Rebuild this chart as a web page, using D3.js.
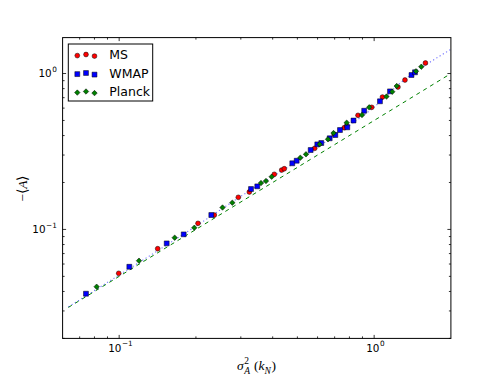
<!DOCTYPE html>
<html><head><meta charset="utf-8">
<script src="https://cdn.jsdelivr.net/npm/d3@7"></script>
<style>body{margin:0;background:#fff;}svg{display:block;}</style>
</head><body>
<svg id="chart" width="501" height="376"></svg>
<script>
// ---- data ----
const msX   = [0.0996,0.1416,0.2038,0.2361,0.2933,0.3239,0.4059,0.4339,0.4442,0.5845,0.6979,0.7636,0.7803,0.8643,0.9781,1.078,1.240,1.321,1.589];
const msY   = [0.0523,0.0752,0.1094,0.1237,0.1607,0.1738,0.2257,0.2404,0.2451,0.3313,0.4074,0.4491,0.4605,0.5394,0.6068,0.7067,0.819,0.9085,1.168];
const wmapX = [0.0741,0.1096,0.1536,0.1791,0.2298,0.3289,0.3481,0.4775,0.4969,0.5637,0.5984,0.6205,0.6693,0.7042,0.7345,0.7847,0.8299,0.9140,1.054,1.154,1.401,1.446];
const wmapY = [0.0387,0.0576,0.0814,0.0930,0.1237,0.1816,0.1890,0.2655,0.2759,0.3231,0.3514,0.3582,0.3841,0.4032,0.4341,0.4518,0.4995,0.5772,0.6634,0.7687,0.978,1.018];
const plX   = [0.0816,0.1196,0.1651,0.1971,0.2543,0.2778,0.3599,0.3765,0.3964,0.5134,0.5404,0.6115,0.6592,0.6929,0.7803,0.8961,0.9563,1.118,1.178,1.226,1.459,1.531];
const plY   = [0.0429,0.0630,0.0885,0.1025,0.1382,0.1484,0.1984,0.2044,0.2178,0.2884,0.3032,0.3514,0.3785,0.4152,0.4836,0.5418,0.6068,0.7119,0.7643,0.8313,1.033,1.106];
// dotted blue fit curve and dashed green curve
const fitX  = [0.0632,0.1,0.2,0.3,0.5,0.7,1.0,1.3,1.6,2.0];
const fitY  = [0.0319,0.051,0.105,0.163,0.275,0.40,0.61,0.90,1.14,1.43];
const halfX = [0.0632,0.2,0.6,1.0,2.0];
const halfY = [0.0316,0.1,0.3,0.5,1.0];
const seriesNames = ["MS","WMAP","Planck"];
const xMajor = [0.1,1];
const xMinor = [0.07,0.08,0.09,0.2,0.3,0.4,0.5,0.6,0.7,0.8,0.9];
const yMajor = [0.1,1];
const yMinor = [0.02,0.03,0.04,0.05,0.06,0.07,0.08,0.09,0.2,0.3,0.4,0.5,0.6,0.7,0.8,0.9];
const xTickExp = ["−1","0"];
const yTickExp = ["−1","0"];

// ---- layout ----
const L=62.6, R=450.9, T=37.6, B=338.4;
const svg=d3.select("#chart");
const x=d3.scaleLog().domain([0.06,2]).range([L,R]);
const y=d3.scaleLog().domain([0.02,1.7]).range([B,T]);

svg.append("defs").append("clipPath").attr("id","clip")
  .append("rect").attr("x",L).attr("y",T).attr("width",R-L).attr("height",B-T);
const plot=svg.append("g").attr("clip-path","url(#clip)");

const line=d3.line().x(d=>x(d[0])).y(d=>y(d[1])).curve(d3.curveMonotoneX);
plot.append("path").datum(halfX.map((v,i)=>[v,halfY[i]]))
  .attr("d",line).attr("fill","none").attr("stroke","#008000").attr("stroke-width",1)
  .attr("stroke-dasharray","4,4");
plot.append("path").datum(fitX.map((v,i)=>[v,fitY[i]]))
  .attr("d",line).attr("fill","none").attr("stroke","#0000ff").attr("stroke-opacity",0.55)
  .attr("stroke-width",1.1).attr("stroke-dasharray","1.2,2.6");

const sym = {
  MS: d3.symbol().type(d3.symbolCircle).size(Math.PI*2.4*2.4),
  WMAP: d3.symbol().type(d3.symbolSquare).size(24),
  Planck: d3.symbol().type(d3.symbolDiamond2).size(19)
};
const colors={MS:"#ff0000",WMAP:"#0000ff",Planck:"#008000"};
const sets=[["MS",msX,msY],["WMAP",wmapX,wmapY],["Planck",plX,plY]];
sets.forEach(([name,xs,ys])=>{
  plot.append("g").selectAll("path").data(xs.map((v,i)=>[v,ys[i]])).join("path")
    .attr("transform",d=>`translate(${x(d[0])},${y(d[1])})`)
    .attr("d",sym[name]()).attr("fill",colors[name])
    .attr("stroke","#000").attr("stroke-width",0.5);
});

// ---- axes: ticks inside, on all four sides ----
const ax=svg.append("g").attr("stroke","#000").attr("stroke-width",0.8);
function tick(x1,y1,x2,y2){ax.append("line").attr("x1",x1).attr("y1",y1).attr("x2",x2).attr("y2",y2);}
xMajor.forEach(v=>{const p=x(v);tick(p,B,p,B-3.5);tick(p,T,p,T+3.5);});
xMinor.forEach(v=>{const p=x(v);tick(p,B,p,B-2);tick(p,T,p,T+2);});
yMajor.forEach(v=>{const p=y(v);tick(L,p,L+3.5,p);tick(R,p,R-3.5,p);});
yMinor.forEach(v=>{const p=y(v);tick(L,p,L+2,p);tick(R,p,R-2,p);});
svg.append("rect").attr("x",L).attr("y",T).attr("width",R-L).attr("height",B-T)
  .attr("fill","none").attr("stroke","#000").attr("stroke-width",1);

// tick labels 10^n
const tf="DejaVu Sans";
xMajor.forEach((v,i)=>{
  const g=svg.append("g").attr("font-family",tf).attr("fill","#000");
  const t=g.append("text").attr("font-size",10.4).attr("y",351.5).text("10");
  const s=g.append("text").attr("font-size",7.3).attr("y",346).text(xTickExp[i]);
  const w1=t.node().getComputedTextLength(), w2=s.node().getComputedTextLength();
  const x0=x(v)-(w1+w2)/2+1;
  t.attr("x",x0); s.attr("x",x0+w1+0.5);
});
yMajor.forEach((v,i)=>{
  const g=svg.append("g").attr("font-family",tf).attr("fill","#000");
  const t=g.append("text").attr("font-size",10.4).attr("y",y(v)+3.8).text("10");
  const s=g.append("text").attr("font-size",7.3).attr("y",y(v)-1.8).text(yTickExp[i]);
  const w1=t.node().getComputedTextLength(), w2=s.node().getComputedTextLength();
  const xr=56.8;
  s.attr("x",xr-w2); t.attr("x",xr-w2-w1-0.5);
});

// axis labels (math style)
const mf="Liberation Serif";
(function(){
  const g=svg.append("g").attr("font-family",mf).attr("fill","#000");
  const base=370;
  const sig=g.append("text").attr("font-size",13.5).attr("font-style","italic").attr("y",base).text("σ");
  const two=g.append("text").attr("font-size",9.5).attr("y",base-6).text("2");
  const A=g.append("text").attr("font-size",9.5).attr("font-style","italic").attr("y",base+3.5).text("A");
  const rest1=g.append("text").attr("font-size",13.5).attr("y",base).text("(");
  const k=g.append("text").attr("font-size",13.5).attr("font-style","italic").attr("y",base).text("k");
  const N=g.append("text").attr("font-size",9.5).attr("font-style","italic").attr("y",base+3.5).text("N");
  const rp=g.append("text").attr("font-size",13.5).attr("y",base).text(")");
  const w=n=>n.node().getComputedTextLength();
  let cx=0; const pos=[];
  pos.push([sig,cx]); cx+=w(sig)+0.5;
  pos.push([two,cx]); pos.push([A,cx]); cx+=Math.max(w(two),w(A))+4;
  pos.push([rest1,cx]); cx+=w(rest1);
  pos.push([k,cx]); cx+=w(k);
  pos.push([N,cx]); cx+=w(N)+0.5;
  pos.push([rp,cx]); cx+=w(rp);
  const start=256.5-cx/2;
  pos.forEach(([n,p])=>n.attr("x",start+p));
})();
(function(){
  const g=svg.append("g").attr("transform","translate(27,188.5) rotate(-90)")
    .attr("font-family",mf).attr("fill","#000");
  const t=g.append("text").attr("font-size",13.5).attr("text-anchor","middle");
  t.append("tspan").text("−⟨");
  t.append("tspan").attr("font-style","italic").text("A");
  t.append("tspan").text("⟩");
})();

// ---- legend ----
const lg=svg.append("g");
lg.append("rect").attr("x",68.3).attr("y",44).attr("width",84.4).attr("height",57)
  .attr("fill","#fff").attr("stroke","#000").attr("stroke-width",1);
const rowsY=[54.5,73,91.5];
const mx=[77.3,86,94.5], my=[1.1,0,1.6];
seriesNames.forEach((name,i)=>{
  mx.forEach((xx,j)=>{
    lg.append("path").attr("transform",`translate(${xx},${rowsY[i]+my[j]})`)
      .attr("d",sym[name]()).attr("fill",colors[name]).attr("stroke","#000").attr("stroke-width",0.5);
  });
  lg.append("text").attr("x",109.3).attr("y",rowsY[i]+4.6).attr("font-family",tf)
    .attr("font-size",12.5).attr("fill","#000").text(name);
});
</script>
</body></html>
